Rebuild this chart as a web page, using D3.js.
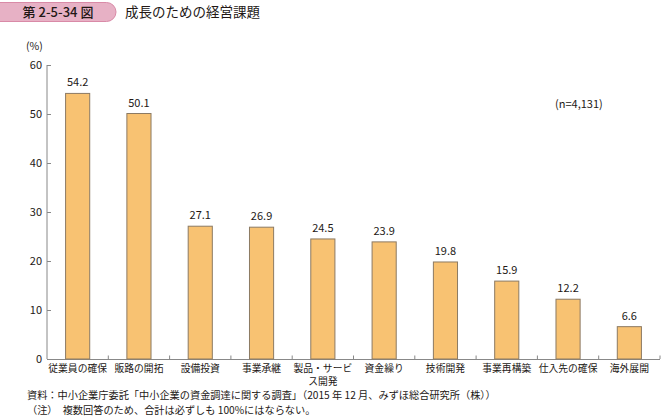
<!DOCTYPE html>
<html><head><meta charset="utf-8">
<script src="https://cdn.jsdelivr.net/npm/d3@7"></script>
<style>
body{margin:0;background:#fff;}
text{font-family:"Noto Sans CJK JP","Noto Sans",sans-serif;fill:#231815;}
</style></head>
<body><svg id="c" width="661" height="417"></svg>
<script>
const categories = ["従業員の確保","販路の開拓","設備投資","事業承継","製品・サービ\nス開発","資金繰り","技術開発","事業再構築","仕入先の確保","海外展開"];
const values = [54.2,50.1,27.1,26.9,24.5,23.9,19.8,15.9,12.2,6.6];
const yTicks = [0,10,20,30,40,50,60];

const svg = d3.select("#c");
const x = d3.scaleBand().domain(categories).range([47,660]).paddingInner(0.59).paddingOuter(0.295);
const y = d3.scaleLinear().domain([0,60]).range([359,65]);

// header badge
svg.append("rect").attr("x",-10).attr("y",2.5).attr("width",126).attr("height",19).attr("rx",9.5)
  .attr("fill","#e7b1c5").attr("stroke","#d98aa7").attr("stroke-width",1);
svg.append("text").attr("x",58).attr("y",17).attr("text-anchor","middle").attr("font-size",13).attr("font-weight",500).text("第 2-5-34 図");
svg.append("text").attr("x",125).attr("y",17).attr("font-size",13.5).text("成長のための経営課題");

// y axis
const ya = svg.append("g").attr("transform","translate(47,0)")
  .call(d3.axisRight(y).tickValues(yTicks).tickSize(4).tickFormat(d3.format("d")));
ya.select(".domain").attr("stroke","#888").attr("d","M0,"+y(60)+"V"+y(0));
ya.selectAll(".tick line").attr("stroke","#888");
ya.selectAll(".tick text").attr("x",-5).attr("text-anchor","end").attr("font-size",11).attr("fill","#231815")
  .style("font-family","'Noto Sans CJK JP',sans-serif");

// x axis
svg.append("line").attr("x1",47).attr("x2",660).attr("y1",359.5).attr("y2",359.5).attr("stroke","#888");
categories.forEach((c,i)=>{
  const bx = 47 + (i+1)*x.step();
  svg.append("line").attr("x1",bx).attr("x2",bx).attr("y1",359).attr("y2",355.5).attr("stroke","#888");
});

// bars
svg.selectAll(".bar").data(values).join("rect")
  .attr("x",(d,i)=>x(categories[i])+0.5).attr("y",d=>y(d)).attr("width",x.bandwidth()-1).attr("height",d=>y(0)-y(d))
  .attr("fill","#f8c272").attr("stroke","#8c7a63").attr("stroke-width",1);

svg.selectAll(".val").data(values).join("text")
  .attr("x",(d,i)=>x(categories[i])+x.bandwidth()/2).attr("y",d=>y(d)-7)
  .attr("text-anchor","middle").attr("font-size",11).text(d=>d.toFixed(1));

// category labels
categories.forEach((c,i)=>{
  const cx = x(c)+x.bandwidth()/2;
  const lines = c.split("\n");
  lines.forEach((l,j)=>{
    svg.append("text").attr("x",cx).attr("y",372+j*12.5).attr("text-anchor","middle").attr("font-size",9.8).text(l);
  });
});

svg.append("text").attr("x",26).attr("y",50).attr("font-size",10.5).text("(%)");
svg.append("text").attr("x",555).attr("y",108).attr("font-size",11).text("(n=4,131)");

svg.append("text").attr("x",27).attr("y",399).attr("font-size",10.2).text("資料：中小企業庁委託「中小企業の資金調達に関する調査」（2015 年 12 月、みずほ総合研究所（株））");
svg.append("text").attr("x",27).attr("y",413.5).attr("font-size",10.2).text("（注）　複数回答のため、合計は必ずしも 100%にはならない。");
</script></body></html>
